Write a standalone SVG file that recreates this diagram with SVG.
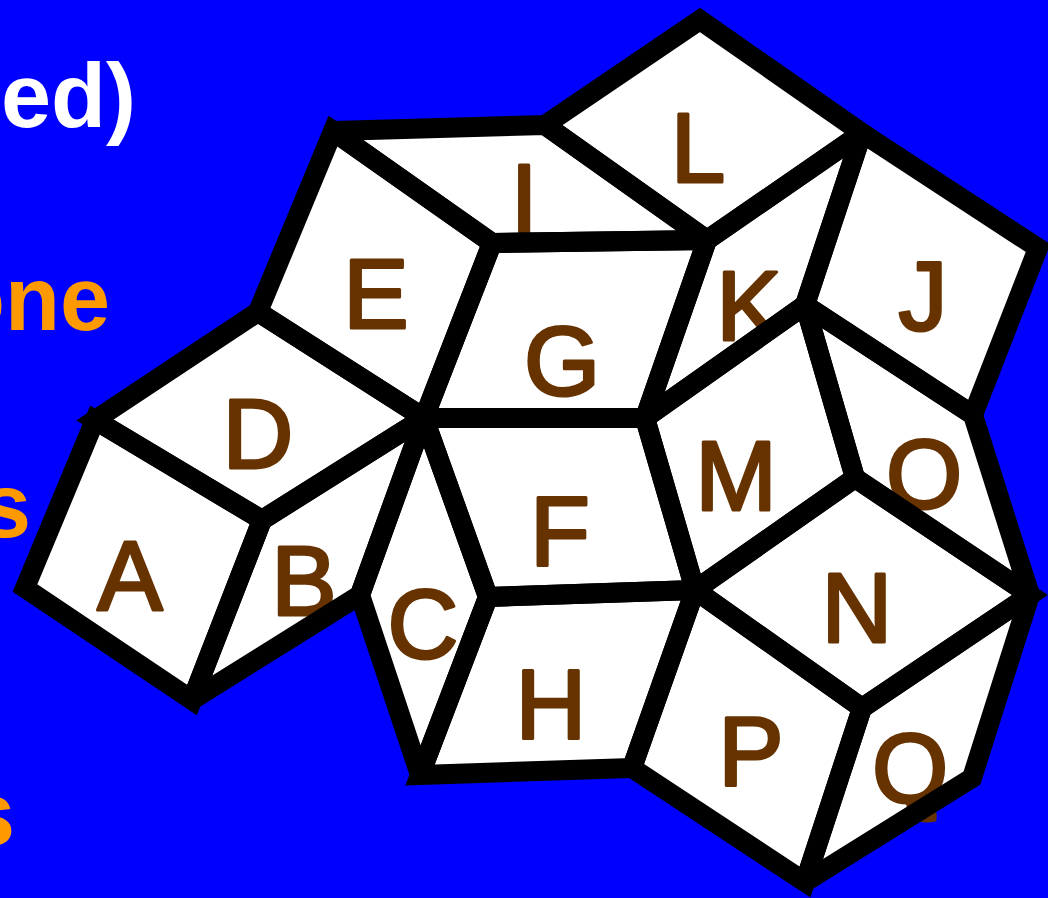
<svg xmlns="http://www.w3.org/2000/svg" xmlns:xlink="http://www.w3.org/1999/xlink" width="1048" height="898" viewBox="0 0 1048 898">
<style>
.face{fill:#ffffff;stroke:none}
.edge{fill:none;stroke:#000000;stroke-width:20;stroke-linejoin:miter;stroke-miterlimit:2}
.lbl{font-family:"Liberation Sans",Arial,sans-serif;font-size:98px;fill:#663300;stroke:#663300;stroke-width:3;stroke-linejoin:round;stroke-linecap:round;text-anchor:middle}
.side{font-family:"Liberation Sans",Arial,sans-serif;font-size:90px;font-weight:bold;text-anchor:end}
</style>
<defs>
<polygon id="pA" points="95,420 262,520 192,700 25,588"/>
<polygon id="pB" points="262,520 424,418 360,595 192,700"/>
<polygon id="pC" points="424,418 488,597 420,775 360,595"/>
<polygon id="pD" points="95,420 258,312 424,418 262,520"/>
<polygon id="pE" points="333,131 492,243 424,418 258,312"/>
<polygon id="pF" points="424,418 645,418 695,590 488,597"/>
<polygon id="pG" points="492,243 707,240 645,418 424,418"/>
<polygon id="pH" points="488,597 695,590 632,768 420,775"/>
<polygon id="pI" points="333,131 545,125 707,240 492,243"/>
<polygon id="pJ" points="862,133 1038,248 973,415 805,305"/>
<polygon id="pK" points="707,240 862,133 805,305 645,418"/>
<polygon id="pL" points="545,125 700,20 862,133 707,240"/>
<polygon id="pM" points="805,305 855,478 695,590 645,418"/>
<polygon id="pN" points="855,478 1030,595 862,708 695,590"/>
<polygon id="pO" points="805,305 973,415 1030,595 855,478"/>
<polygon id="pP" points="695,590 862,708 805,882 632,768"/>
<polygon id="pQ" points="862,708 1030,595 972,778 805,882"/>
</defs>
<rect x="0" y="0" width="1048" height="898" fill="#0000ff"/>
<g id="side-text">
<text class="side" x="136" y="127" fill="#ffffff">ed)</text>
<text class="side" x="110" y="330" fill="#ff9900">one</text>
<text class="side" x="31" y="537" fill="#ff9900">s</text>
<text class="side" x="15" y="845" fill="#ff9900">s</text>
</g>
<g id="A"><use xlink:href="#pA" class="face"/><text class="lbl" x="130" y="610">A</text></g>
<g id="B"><use xlink:href="#pB" class="face"/><text class="lbl" x="304" y="615">B</text></g>
<g id="C"><use xlink:href="#pC" class="face"/><text class="lbl" x="423" y="658">C</text></g>
<g id="D"><use xlink:href="#pD" class="face"/><text class="lbl" x="258" y="468">D</text></g>
<g id="E"><use xlink:href="#pE" class="face"/><text class="lbl" x="376" y="328">E</text></g>
<g id="F"><use xlink:href="#pF" class="face"/><text class="lbl" x="560" y="565">F</text></g>
<g id="G"><use xlink:href="#pG" class="face"/><text class="lbl" x="562" y="395">G</text></g>
<g id="H"><use xlink:href="#pH" class="face"/><text class="lbl" x="551" y="738">H</text></g>
<g id="I"><use xlink:href="#pI" class="face"/><text class="lbl" x="524" y="233">I</text></g>
<g id="J"><use xlink:href="#pJ" class="face"/><text class="lbl" x="923" y="330">J</text></g>
<g id="K"><use xlink:href="#pK" class="face"/><text class="lbl" x="749" y="340">K</text></g>
<g id="L"><use xlink:href="#pL" class="face"/><text class="lbl" x="698" y="182">L</text></g>
<g id="M"><use xlink:href="#pM" class="face"/><text class="lbl" x="736" y="510">M</text></g>
<g id="N"><use xlink:href="#pN" class="face"/><text class="lbl" x="857" y="642">N</text></g>
<g id="O"><use xlink:href="#pO" class="face"/><text class="lbl" x="924" y="508">O</text></g>
<g id="P"><use xlink:href="#pP" class="face"/><text class="lbl" x="751" y="785">P</text></g>
<g id="Q"><use xlink:href="#pQ" class="face"/><text class="lbl" x="910" y="802">Q</text></g>
<g id="edges">
<use xlink:href="#pA" class="edge"/>
<use xlink:href="#pB" class="edge"/>
<use xlink:href="#pC" class="edge"/>
<use xlink:href="#pD" class="edge"/>
<use xlink:href="#pE" class="edge"/>
<use xlink:href="#pF" class="edge"/>
<use xlink:href="#pG" class="edge"/>
<use xlink:href="#pH" class="edge"/>
<use xlink:href="#pI" class="edge"/>
<use xlink:href="#pJ" class="edge"/>
<use xlink:href="#pK" class="edge"/>
<use xlink:href="#pL" class="edge"/>
<use xlink:href="#pM" class="edge"/>
<use xlink:href="#pN" class="edge"/>
<use xlink:href="#pO" class="edge"/>
<use xlink:href="#pP" class="edge"/>
<use xlink:href="#pQ" class="edge"/>
</g>
</svg>
